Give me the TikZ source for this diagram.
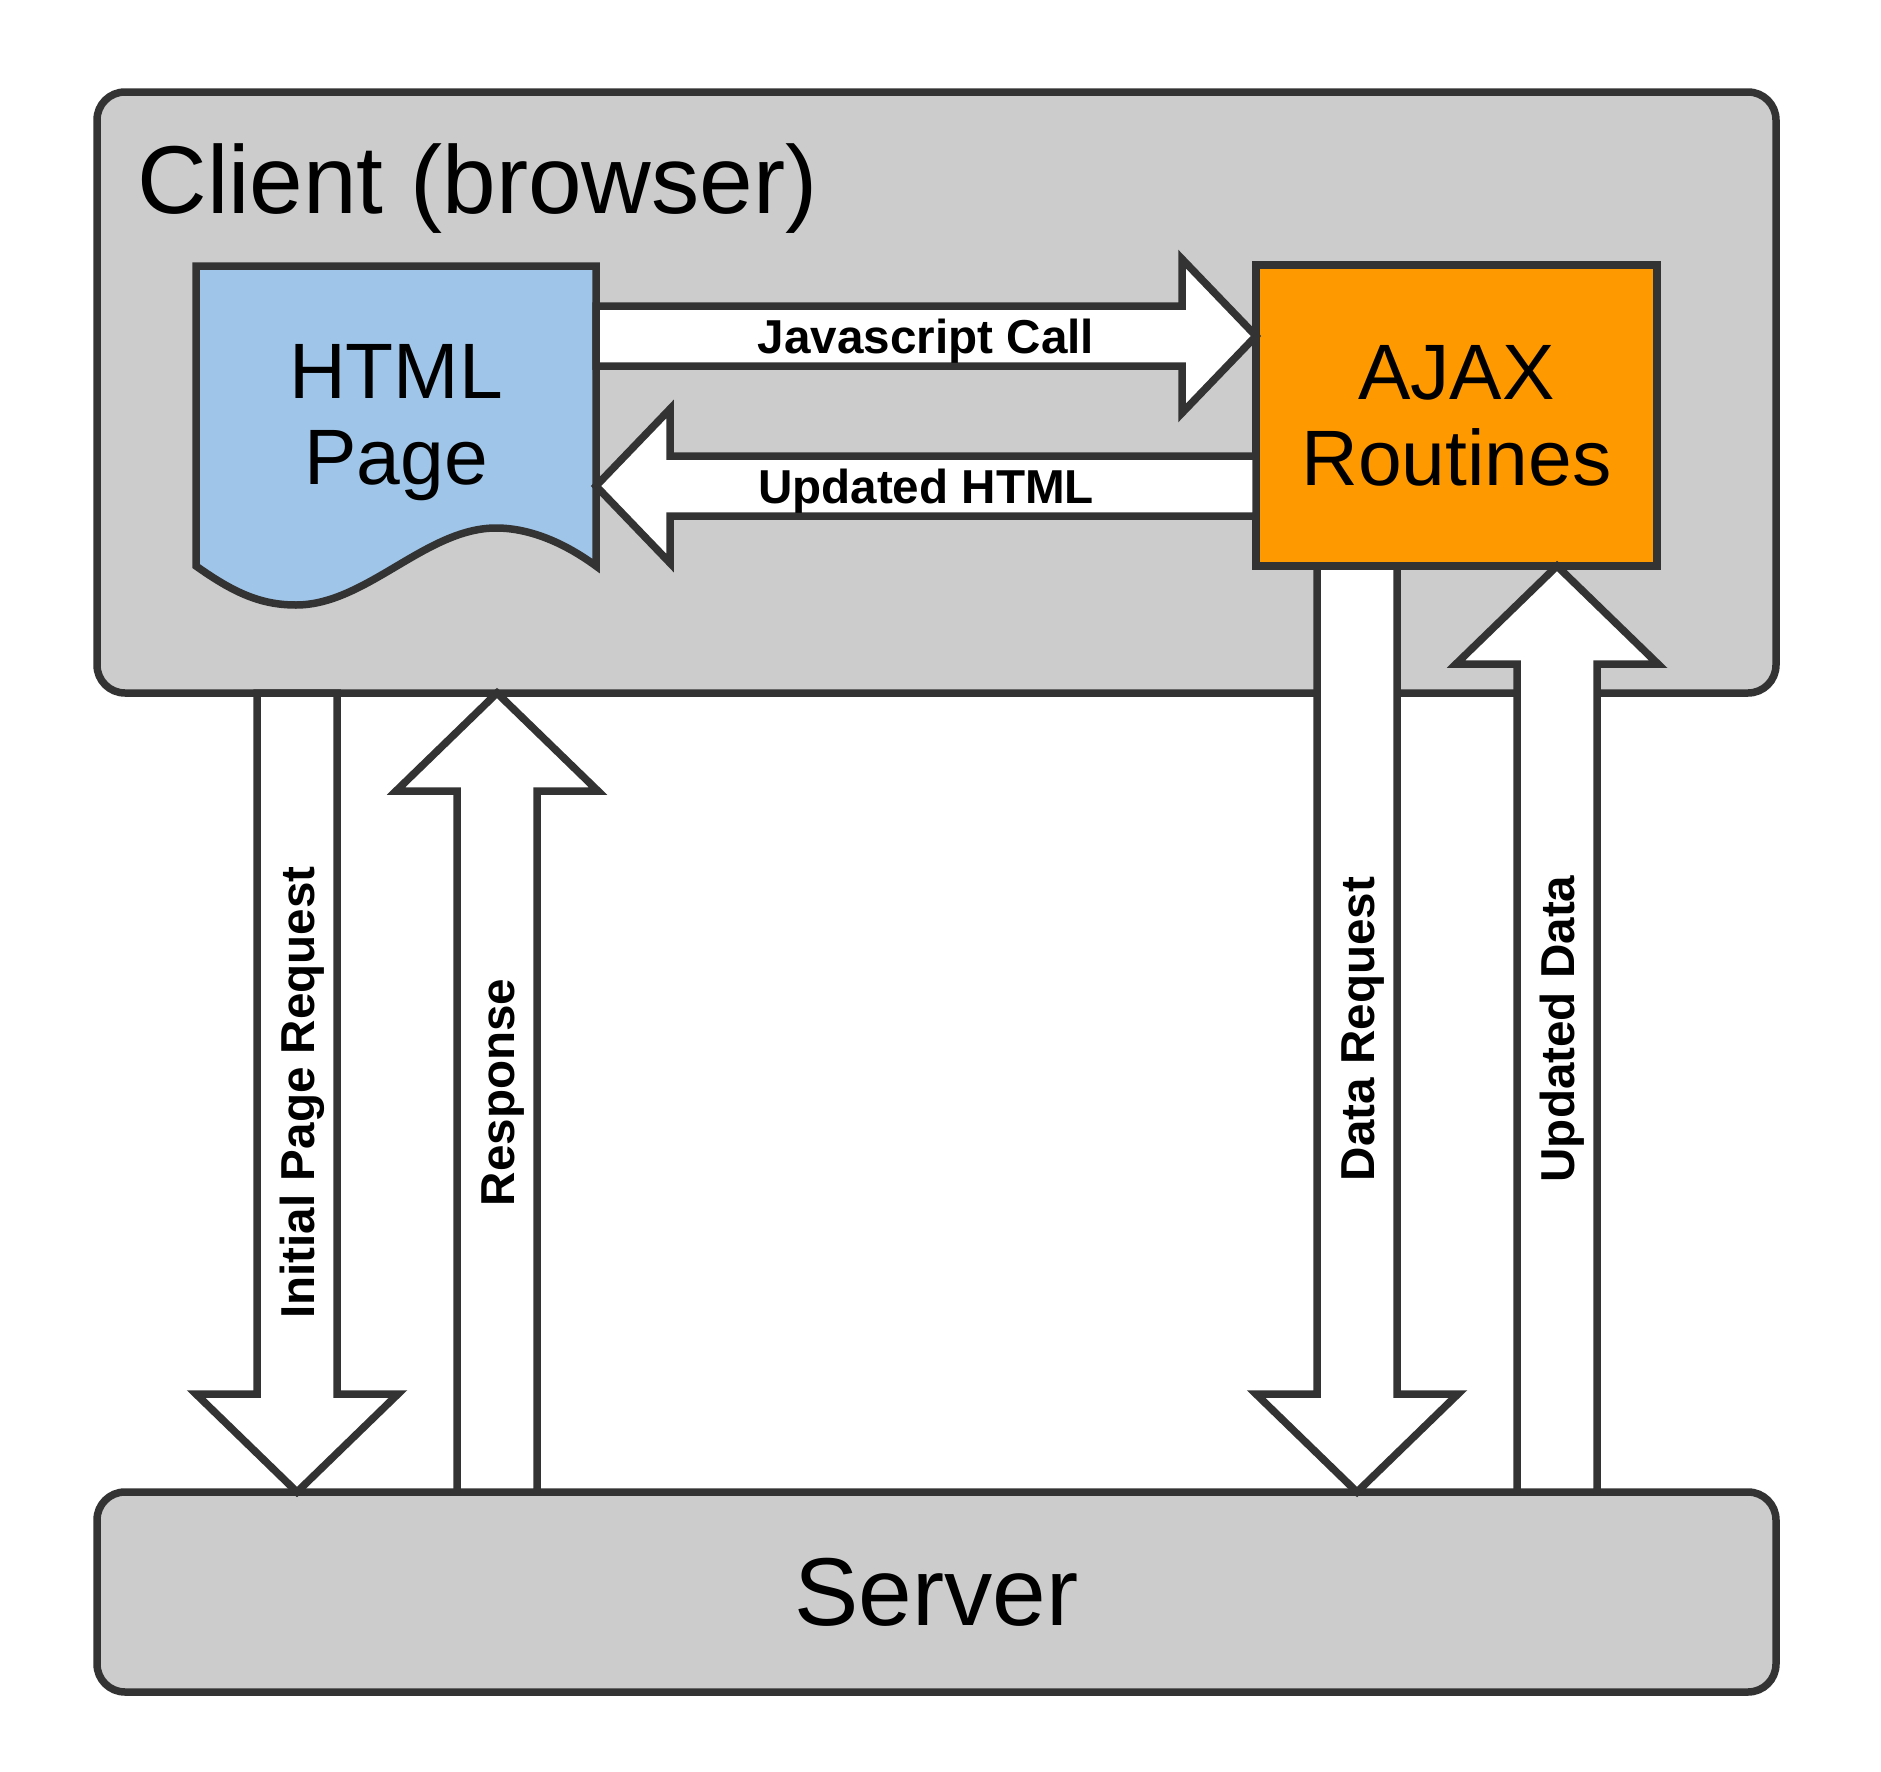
\documentclass[tikz,border=0pt]{standalone}
\usepackage{fontspec}
\setmainfont{Liberation Sans}
\usetikzlibrary{calc}

\definecolor{clientgrey}{HTML}{CCCCCC}
\definecolor{linegrey}{HTML}{333333}
\definecolor{pageblue}{HTML}{9FC5E8}
\definecolor{ajaxorange}{HTML}{FF9900}

\tikzset{
  box/.style={draw=linegrey, line width=3.75pt, inner sep=0pt, outer sep=0pt},
  bigtext/.style={font=\fontsize{48.2}{52}\selectfont},
  boxtext/.style={font=\fontsize{39.3}{43}\selectfont, align=center},
  arrowbody/.style={draw=linegrey, fill=white, line width=3.75pt},
  arrowlabel/.style={font=\bfseries\fontsize{23.8}{28}\selectfont, inner sep=0pt, text height=17pt, text depth=0pt}
}

\newcommand{\blockarrow}[5]{%
  \coordinate (a) at (#1);
  \coordinate (b) at (#2);
  \coordinate (h) at ($(b)!\arrheadlen!(a)$);
  \filldraw[arrowbody] ($(a)!\arrshaft!90:(b)$) -- ($(h)!\arrshaft!90:(b)$) -- ($(h)!\arrhead!90:(b)$) -- (b)
    -- ($(h)!\arrhead!-90:(b)$) -- ($(h)!\arrshaft!-90:(b)$) -- ($(a)!\arrshaft!-90:(b)$) -- cycle;
  \node[arrowlabel, rotate=#4] (#3) at ($(a)!.5!(b)$) {#5};
}

\begin{document}
\begin{tikzpicture}[x=0.5pt, y=-0.5pt]
\fill[white] (0,0) rectangle (1881,1772);
\useasboundingbox (0,0) rectangle (1881,1772);

\node[box, fill=clientgrey, rounded corners=14pt, minimum width=839.5pt, minimum height=300.5pt] (client) at (936.5,392.5) {};
\node[bigtext, anchor=base west, inner sep=0pt] (clienttext) at (137,213) {Client (browser)};
\node[box, fill=clientgrey, rounded corners=14pt, minimum width=839.5pt, minimum height=100pt, bigtext] (server) at (936.5,1592) {Server};

\node[inner sep=0pt, outer sep=0pt, minimum width=200pt, minimum height=150pt] (html) at (396,416) {};
\filldraw[fill=pageblue, draw=linegrey, line width=3.75pt] (html.north west) -- (html.north east) -- (html.south east)
  .. controls +(-30,-22) and +(35,0) .. ++(-100,-38)
  .. controls +(-70,0) and +(70,0) .. ++(-200,77)
  .. controls +(-35,0) and +(38,27) .. ++(-100,-39) -- cycle;
\node[boxtext] (htmltext) at ($(html)+(0,7)$) {HTML\\Page};
\node[box, fill=ajaxorange, minimum width=200.5pt, minimum height=150.5pt, boxtext] (ajax) at (1456.5,415.5) {AJAX\\Routines};

\coordinate (jsrow) at (0,336);
\coordinate (uhrow) at (0,486);
\coordinate (iprcol) at (297,0);
\coordinate (respcol) at (497,0);
\coordinate (drcol) at (1357,0);
\coordinate (udcol) at (1557,0);

\def\arrshaft{15pt}\def\arrhead{38.5pt}\def\arrheadlen{37pt}
\blockarrow{html.east |- jsrow}{ajax.west |- jsrow}{jscall}{0}{Javascript Call}
\blockarrow{ajax.west |- uhrow}{html.east |- uhrow}{updhtml}{0}{Updated HTML}

\def\arrshaft{20pt}\def\arrhead{50.5pt}\def\arrheadlen{49pt}
\blockarrow{iprcol |- client.south}{iprcol |- server.north}{initreq}{90}{Initial Page Request}
\blockarrow{respcol |- server.north}{respcol |- client.south}{response}{90}{Response}
\blockarrow{drcol |- ajax.south}{drcol |- server.north}{datareq}{90}{Data Request}
\blockarrow{udcol |- server.north}{udcol |- ajax.south}{upddata}{90}{Updated Data}
\end{tikzpicture}
\end{document}
